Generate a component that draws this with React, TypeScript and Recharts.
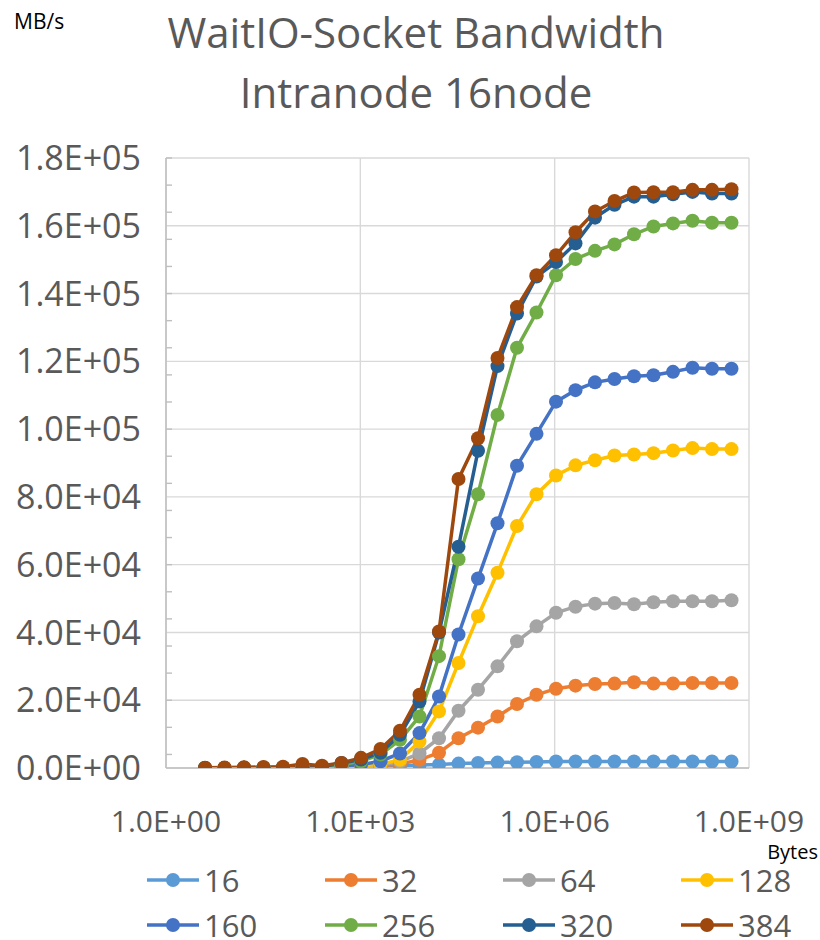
import React from 'react'
import {LineChart, Line, XAxis, YAxis, CartesianGrid} from 'recharts'

// message sizes in bytes (2^2 .. 2^29)
const sizes = [
  4, 8, 16, 32, 64, 128, 256, 512, 1024, 2048, 4096, 8192, 16384, 32768, 65536, 131072, 262144, 524288, 1048576,
  2097152, 4194304, 8388608, 16777216, 33554432, 67108864, 134217728, 268435456, 536870912,
]

const seriesNames = ['16', '32', '64', '128', '160', '256', '320', '384']
const seriesColors = ['#5B9BD5', '#ED7D31', '#A5A5A5', '#FFC000', '#4472C4', '#70AD47', '#255E91', '#9E480E']

// bandwidth MB/s
const bw16 = [10, 20, 30, 50, 80, 120, 180, 260, 350, 500, 700, 850, 1000, 1300, 1500, 1600, 1700, 1800, 1900, 1900, 1900, 1900, 1900, 1900, 1900, 1900, 1900, 1900]
const bw32 = [10, 20, 40, 60, 100, 150, 230, 350, 500, 700, 1200, 2400, 4500, 8800, 11900, 15200, 18900, 21600, 23400, 24300, 24800, 24900, 25300, 24900, 24900, 25100, 25100, 25100]
const bw64 = [10, 20, 40, 70, 110, 170, 260, 400, 600, 900, 1900, 4300, 8800, 16900, 23100, 30000, 37400, 41800, 45800, 47600, 48500, 48700, 48300, 48900, 49200, 49200, 49200, 49500]
const bw128 = [10, 25, 45, 80, 130, 200, 300, 450, 700, 1100, 2400, 7800, 16700, 31000, 44800, 57600, 71400, 80800, 86300, 89300, 90800, 92200, 92500, 92900, 93700, 94400, 94100, 94100]
const bw160 = [15, 30, 50, 90, 140, 220, 330, 500, 1000, 2000, 4300, 10300, 21100, 39400, 55900, 72200, 89200, 98600, 108100, 111500, 113800, 114800, 115600, 115900, 116900, 118100, 117800, 117800]
const bw256 = [15, 30, 55, 95, 150, 240, 360, 1000, 2000, 4000, 8300, 15200, 33000, 61600, 80800, 104200, 124000, 134400, 145400, 150200, 152600, 154500, 157500, 159800, 160700, 161500, 160900, 160900]
const bw320 = [20, 35, 60, 100, 160, 250, 380, 1500, 2500, 4500, 9800, 19600, 40000, 65300, 93600, 118600, 134100, 145000, 149300, 154800, 162400, 166200, 168600, 168600, 169300, 170000, 169500, 169500]
const bw384 = [100, 150, 200, 300, 400, 1200, 700, 1500, 3000, 5600, 11000, 21600, 40300, 85300, 97300, 121000, 136000, 145400, 151300, 158100, 164200, 167300, 169800, 169900, 169900, 170600, 170600, 170800]

const seriesValues = [bw16, bw32, bw64, bw128, bw160, bw256, bw320, bw384]

const xTicks = [1, 1e3, 1e6, 1e9]
const yTicks = [0, 20000, 40000, 60000, 80000, 100000, 120000, 140000, 160000, 180000]
const yMinorTicks = Array.from({length: 46}, (_, i) => i * 4000)

const data = sizes.map((x, i) => {
  const row: any = {x}
  seriesNames.forEach((name, s) => {
    row['s' + name] = seriesValues[s][i]
  })
  return row
})

const FONT = '"Open Sans", sans-serif'
const TEXT = '#595959'

const sci = (v: number) => {
  const [m, e] = v.toExponential(1).split('e')
  const sign = e[0] === '-' ? '-' : '+'
  const digits = e.replace(/[+-]/, '').padStart(2, '0')
  return `${m}E${sign}${digits}`
}

export default function App() {
  return (
    <div style={{position: 'absolute', left: 0, top: 0, width: 820, height: 940, background: '#fff', fontFamily: FONT, overflow: 'hidden'}}>
      <LineChart width={820} height={940} data={data} margin={{top: 158, right: 71, left: 0, bottom: 112}}>
        <CartesianGrid stroke="#D9D9D9" strokeWidth={1.4} />
        <XAxis
          dataKey="x"
          type="number"
          scale="log"
          domain={[1, 1e9]}
          ticks={xTicks}
          tickFormatter={sci}
          height={60}
          axisLine={{stroke: '#BFBFBF', strokeWidth: 1.5}}
          tickLine={false}
          tickMargin={37}
          tick={{fontSize: 30, fill: TEXT, fontFamily: FONT}}
          allowDataOverflow
        />
        <YAxis
          domain={[0, 180000]}
          ticks={yTicks}
          tickFormatter={sci}
          width={166}
          axisLine={{stroke: '#BFBFBF', strokeWidth: 1.5}}
          tickLine={false}
          tickMargin={19}
          tick={{fontSize: 34, fill: TEXT, fontFamily: FONT}}
          allowDataOverflow
        />
        {/* 補助目盛 */}
        <YAxis
          yAxisId="minor"
          domain={[0, 180000]}
          ticks={yMinorTicks}
          width={1}
          mirror
          axisLine={false}
          tickSize={6}
          tickLine={{stroke: '#BFBFBF', strokeWidth: 1.4}}
          tick={() => <g />}
          allowDataOverflow
        />
        {seriesNames.map((name, s) => (
          <Line
            key={name}
            isAnimationActive={false}
            type="linear"
            dataKey={'s' + name}
            stroke={seriesColors[s]}
            strokeWidth={3.5}
            dot={{r: 7, fill: seriesColors[s], stroke: seriesColors[s], strokeWidth: 0}}
            activeDot={false}
          />
        ))}
      </LineChart>

      {/* タイトル */}
      <div
        style={{
          position: 'absolute',
          left: 0,
          top: 2,
          width: 832,
          textAlign: 'center',
          fontSize: 42,
          lineHeight: '60px',
          color: TEXT,
        }}
      >
        <div>WaitIO-Socket Bandwidth</div>
        <div>Intranode 16node</div>
      </div>
      <div style={{position: 'absolute', left: 14, top: 9, fontSize: 21, lineHeight: '24px', color: '#000'}}>MB/s</div>
      <div style={{position: 'absolute', right: 2, top: 842, fontSize: 20, lineHeight: '20px', color: '#000'}}>Bytes</div>

      {/* 凡例 */}
      <div
        style={{
          position: 'absolute',
          left: 147,
          top: 866,
          display: 'grid',
          gridTemplateColumns: 'repeat(4, 178px)',
          gridAutoRows: '28px',
          rowGap: 17,
        }}
      >
        {seriesNames.map((name, s) => (
          <div key={name} style={{display: 'flex', alignItems: 'center', fontSize: 31, lineHeight: '28px', color: TEXT}}>
            <svg width={55} height={20} style={{marginRight: 2}}>
              <line x1={0} y1={10} x2={52} y2={10} stroke={seriesColors[s]} strokeWidth={3.5} />
              <circle cx={26} cy={10} r={7} fill={seriesColors[s]} />
            </svg>
            <span>{name}</span>
          </div>
        ))}
      </div>
    </div>
  )
}
